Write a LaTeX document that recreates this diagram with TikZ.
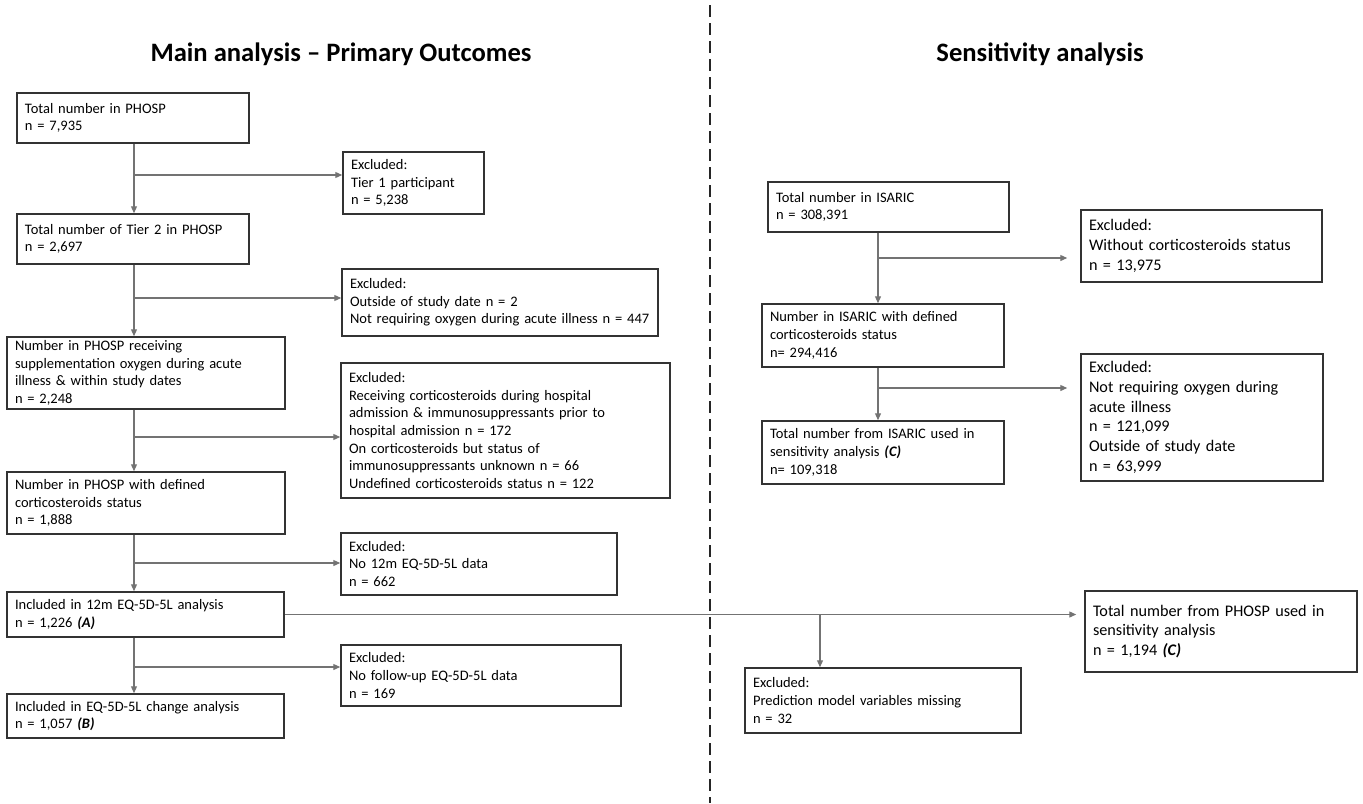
\documentclass[tikz,border=0pt]{standalone}
\usepackage{fontspec}
\setmainfont{Carlito}
\usetikzlibrary{arrows.meta, positioning}

\newcommand{\boxfont}{\fontsize{7.25}{8.85}\selectfont}
\newcommand{\bigboxfont}{\fontsize{8.1}{9.9}\selectfont}

\begin{document}
\begin{tikzpicture}
  [x=0.5pt, y=-0.5pt,
   boxsize/.style 2 args={minimum width=#1*0.5pt, minimum height=#2*0.5pt,
                          text width=#1*0.5pt-8pt},
   stage/.style={rectangle, draw=black!80, line width=0.75pt, align=left,
                 inner xsep=4pt, inner ysep=1pt, font=\boxfont},
   excl/.style={stage},
   bigtext/.style={font=\bigboxfont},
   flow/.style={->, >={Triangle[length=3.5pt,width=3pt]}, draw=black!55,
                line width=0.6pt},
   title/.style={anchor=base, font=\fontsize{13.3}{16}\selectfont\bfseries},
   divider/.style={black!85, line width=1pt, dash pattern=on 6pt off 3pt}]

  \useasboundingbox (0,0) rectangle (1363,803);

  % Titulos
  \node (maintitle) at (341,61) [title] {Main analysis -- Primary Outcomes};
  \node (senstitle) at (1040,61) [title] {Sensitivity analysis};

  % Divisoria
  \coordinate (divtop) at (710,5);
  \coordinate (divbot) at (710,803);
  \draw [divider] (divtop) -- (divbot);

  % Coluna principal
  \node (b1) at (133,118) [stage, boxsize={232}{50}]
    {Total number in PHOSP\\ n = 7,935};
  \node (b2) at (133,239) [stage, boxsize={232}{50}]
    {Total number of Tier 2 in PHOSP\\ n = 2,697};
  \node (b3) at (146,373) [stage, boxsize={278}{72}]
    {Number in PHOSP receiving\\ supplementation oxygen during acute\\
     illness \& within study dates\\ n = 2,248};
  \node (b4) at (146,503) [stage, boxsize={278}{62}]
    {Number in PHOSP with defined\\ corticosteroids status\\ n = 1,888};
  \node (b5) at (145.5,614.5) [stage, boxsize={277}{45}]
    {Included in 12m EQ-5D-5L analysis\\ n = 1,226 \textbf{\textit{(A)}}};
  \node (b6) at (145.5,716) [stage, boxsize={277}{44}]
    {Included in EQ-5D-5L change analysis\\ n = 1,057 \textbf{\textit{(B)}}};

  % Exclusoes
  \node (ex1) at (413.5,183) [excl, boxsize={141}{62}]
    {Excluded:\\ Tier 1 participant\\ n = 5,238};
  \node (ex2) at (500,302.5) [excl, boxsize={316}{67}]
    {Excluded:\\ Outside of study date n = 2\\
     Not requiring oxygen during acute illness n = 447};
  \node (ex3) at (505.5,430.5) [excl, boxsize={329}{135}]
    {Excluded:\\ Receiving corticosteroids during hospital\\
     admission \& immunosuppressants prior to\\
     hospital admission n = 172\\ On corticosteroids but status of\\
     immunosuppressants unknown n = 66\\
     Undefined corticosteroids status n = 122};
  \node (ex4) at (479,564) [excl, boxsize={276}{62}]
    {Excluded:\\ No 12m EQ-5D-5L data\\ n = 662};
  \node (ex5) at (481,675.5) [excl, boxsize={280}{61}]
    {Excluded:\\ No follow-up EQ-5D-5L data\\ n = 169};

  % Setas da coluna principal
  \coordinate (ls) at (134,0);
  \coordinate (j1) at (134,175);
  \coordinate (j2) at (134,298);
  \coordinate (j3) at (134,437);
  \coordinate (j4) at (134,563);
  \coordinate (j5) at (134,667);
  \draw [flow] (b1.south -| ls) -- (b2.north -| ls);
  \draw [flow] (b2.south -| ls) -- (b3.north -| ls);
  \draw [flow] (b3.south -| ls) -- (b4.north -| ls);
  \draw [flow] (b4.south -| ls) -- (b5.north -| ls);
  \draw [flow] (b5.south -| ls) -- (b6.north -| ls);
  \draw [flow] (j1) -- (j1 -| ex1.west);
  \draw [flow] (j2) -- (j2 -| ex2.west);
  \draw [flow] (j3) -- (j3 -| ex3.west);
  \draw [flow] (j4) -- (j4 -| ex4.west);
  \draw [flow] (j5) -- (j5 -| ex5.west);

  % Analise de sensibilidade
  \node (r1) at (888.5,207) [stage, boxsize={241}{50}]
    {Total number in ISARIC\\ n = 308,391};
  \node (rx1) at (1201.5,246) [excl, bigtext, boxsize={241}{72}]
    {Excluded:\\ Without corticosteroids status\\ n = 13,975};
  \node (r2) at (883,335.5) [stage, boxsize={242}{63}]
    {Number in ISARIC with defined\\ corticosteroids status\\ n= 294,416};
  \node (rx2) at (1202,417.5) [excl, bigtext, boxsize={242}{127}]
    {Excluded:\\ Not requiring oxygen during\\ acute illness\\ n = 121,099\\
     Outside of study date\\ n = 63,999};
  \node (r3) at (883,452.5) [stage, boxsize={242}{63}]
    {Total number from ISARIC used in\\
     sensitivity analysis \textbf{\textit{(C)}}\\ n= 109,318};
  \node (r4) at (1221,631.5) [stage, bigtext, boxsize={272}{81}]
    {Total number from PHOSP used in\\ sensitivity analysis\\
     n = 1,194 \textbf{\textit{(C)}}};
  \node (rx3) at (883,700.5) [excl, boxsize={276}{65}]
    {Excluded:\\ Prediction model variables missing\\ n = 32};

  % Setas da analise de sensibilidade
  \coordinate (rs) at (878,0);
  \coordinate (jr1) at (878,258);
  \coordinate (jr2) at (878,388);
  \coordinate (jr3) at (820,614.5);
  \draw [flow] (r1.south -| rs) -- (r2.north -| rs);
  \draw [flow] (r2.south -| rs) -- (r3.north -| rs);
  \draw [flow, shorten >=6.5pt] (jr1) -- (jr1 -| rx1.west);
  \draw [flow, shorten >=6.5pt] (jr2) -- (jr2 -| rx2.west);
  \draw [flow, shorten >=4pt] (b5.east) -- (b5.east -| r4.west);
  \draw [flow] (jr3) -- (jr3 |- rx3.north);

\end{tikzpicture}
\end{document}
